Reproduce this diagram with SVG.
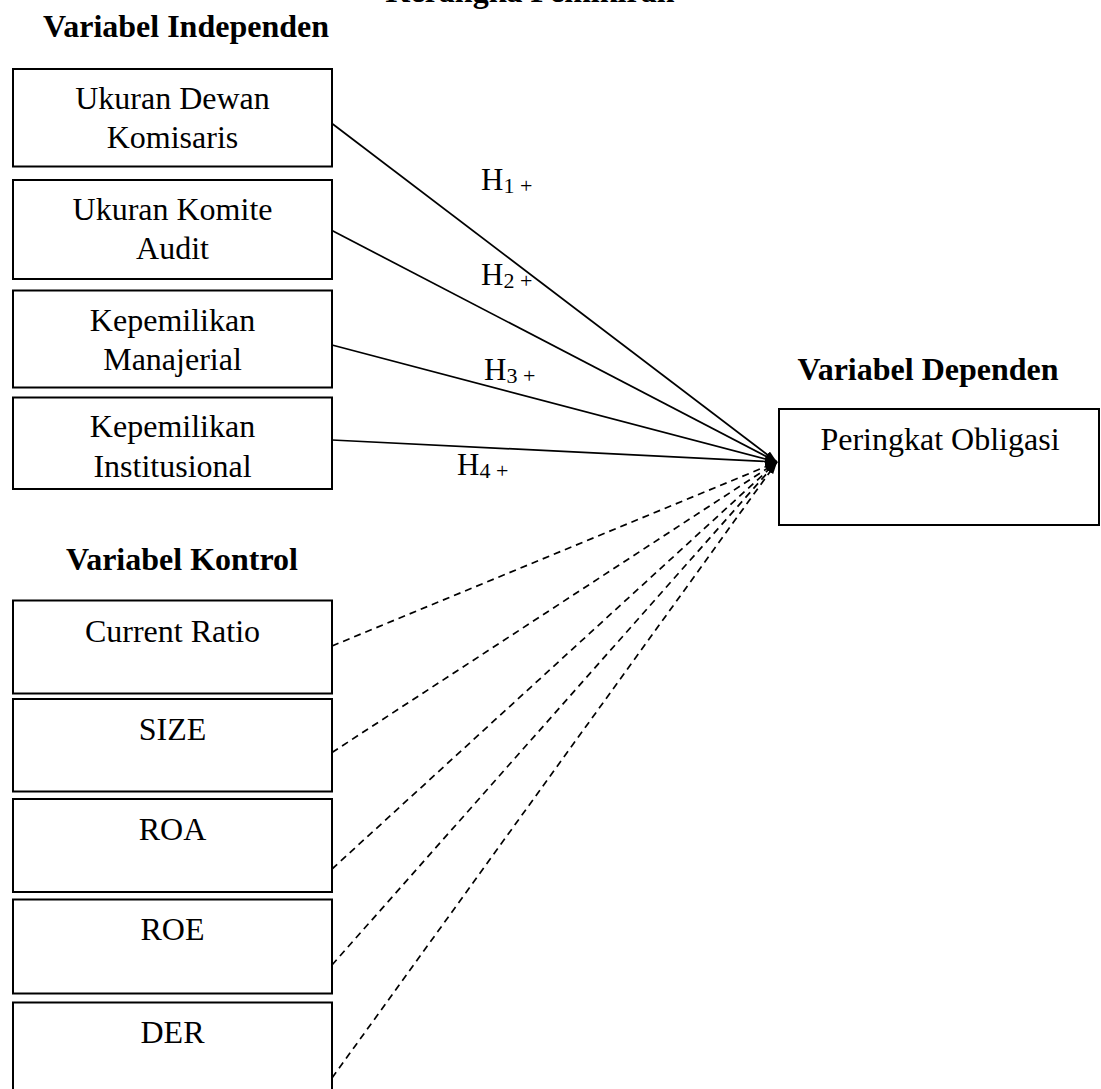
<svg xmlns="http://www.w3.org/2000/svg" width="1101" height="1089" viewBox="0 0 1101 1089">
<style>
text{font-family:"Liberation Serif","Times New Roman",serif;fill:#000}
.t{font-size:32px;text-anchor:middle}
.h{font-size:32px;font-weight:bold;text-anchor:middle}
.lab{font-size:31px}
.sub{font-size:22px}
.box{fill:#fff;stroke:#000;stroke-width:2}
.c{stroke:#000;stroke-width:1.7;fill:none;marker-end:url(#arr)}
.d{stroke-dasharray:7 5}
</style>
<defs>
<marker id="arr" markerUnits="userSpaceOnUse" markerWidth="13" markerHeight="10" refX="12" refY="4" orient="auto">
<path d="M0,0 L12,4 L0,8 z" fill="#000"/>
</marker>
</defs>
<rect width="1101" height="1089" fill="#fff"/>
<text class="h" x="530" y="2">Kerangka Pemikiran</text>
<text class="h" x="186" y="37">Variabel Independen</text>
<text class="h" x="182" y="570">Variabel Kontrol</text>
<text class="h" x="928" y="380">Variabel Dependen</text>

<g id="connectors">
<line class="c" x1="332" y1="123.5" x2="777" y2="462"/>
<line class="c" x1="332" y1="230.5" x2="777" y2="462"/>
<line class="c" x1="332" y1="345" x2="777" y2="462"/>
<line class="c" x1="332" y1="440" x2="777" y2="462"/>
<line class="c d" x1="332" y1="646" x2="777" y2="462"/>
<line class="c d" x1="332" y1="752.5" x2="777" y2="462"/>
<line class="c d" x1="332" y1="869" x2="777" y2="462"/>
<line class="c d" x1="332" y1="965" x2="777" y2="462"/>
<line class="c d" x1="332" y1="1078" x2="777" y2="462"/>
<text class="lab" x="481" y="190">H<tspan class="sub" dy="3">1 +</tspan></text>
<text class="lab" x="481" y="285">H<tspan class="sub" dy="3">2 +</tspan></text>
<text class="lab" x="484" y="380">H<tspan class="sub" dy="3">3 +</tspan></text>
<text class="lab" x="457" y="475">H<tspan class="sub" dy="3">4 +</tspan></text>
</g>

<g id="n-dewan">
<rect class="box" x="13" y="69" width="319" height="97.5"/>
<text class="t" x="172.5" y="109">Ukuran Dewan</text>
<text class="t" x="172.5" y="147.5">Komisaris</text>
</g>
<g id="n-komite">
<rect class="box" x="13" y="180" width="319" height="99"/>
<text class="t" x="172.5" y="220">Ukuran Komite</text>
<text class="t" x="172.5" y="258.5">Audit</text>
</g>
<g id="n-manajerial">
<rect class="box" x="13" y="290.5" width="319" height="97"/>
<text class="t" x="172.5" y="331">Kepemilikan</text>
<text class="t" x="172.5" y="370">Manajerial</text>
</g>
<g id="n-institusional">
<rect class="box" x="13" y="397.5" width="319" height="91.5"/>
<text class="t" x="172.5" y="437">Kepemilikan</text>
<text class="t" x="172.5" y="476.5">Institusional</text>
</g>
<g id="n-cr">
<rect class="box" x="13" y="600.5" width="319" height="93"/>
<text class="t" x="172.5" y="642">Current Ratio</text>
</g>
<g id="n-size">
<rect class="box" x="13" y="699" width="319" height="92.5"/>
<text class="t" x="172.5" y="740">SIZE</text>
</g>
<g id="n-roa">
<rect class="box" x="13" y="799" width="319" height="93"/>
<text class="t" x="172.5" y="839.5">ROA</text>
</g>
<g id="n-roe">
<rect class="box" x="13" y="899.5" width="319" height="94"/>
<text class="t" x="172.5" y="940">ROE</text>
</g>
<g id="n-der">
<rect class="box" x="13" y="1002.5" width="319" height="100"/>
<text class="t" x="172.5" y="1043">DER</text>
</g>
<g id="n-peringkat">
<rect class="box" x="779" y="409" width="320" height="116"/>
<text class="t" x="940" y="450">Peringkat Obligasi</text>
</g>
</svg>
